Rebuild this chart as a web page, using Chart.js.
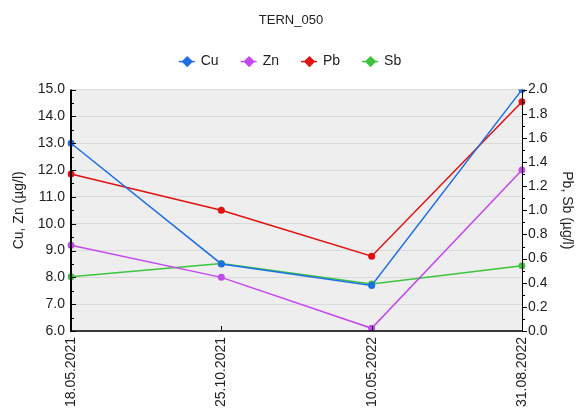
<!DOCTYPE html>
<html>
<head>
<meta charset="utf-8">
<script src="https://cdn.jsdelivr.net/npm/chart.js@4"></script>
<style>
  html, body { margin: 0; padding: 0; background: #fff; overflow: hidden; }
  #wrap { position: relative; width: 579px; height: 430px; }
</style>
</head>
<body>
<div id="wrap"><canvas id="chart"></canvas></div>
<script>
const dates = ['18.05.2021', '25.10.2021', '10.05.2022', '31.08.2022'];
const cuValues = [13.0, 8.5, 7.7, 15.0];
const znValues = [9.2, 8.0, 6.1, 12.0];
const pbValues = [1.30, 1.00, 0.62, 1.90];
const sbValues = [0.45, 0.56, 0.39, 0.54];

const FONT = 'Arial, "Liberation Sans", sans-serif';
const TEXT = '#222';

function series(label, data, color, axis) {
    return {
        label: label,
        data: data,
        yAxisID: axis,
        borderColor: color,
        backgroundColor: color,
        borderWidth: 1.5,
        pointRadius: 3.5,
        pointHoverRadius: 3.5,
        pointBorderWidth: 0,
        pointStyle: 'circle',
        tension: 0
    };
}

// plot background, border, inside/outside ticks incl. minor ones
const frame = {
    id: 'frame',
    beforeDraw(chart) {
        const { ctx, chartArea: a } = chart;
        ctx.save();
        ctx.fillStyle = '#eeeeee';
        ctx.fillRect(a.left, a.top, a.right - a.left, a.bottom - a.top);
        ctx.restore();
    },
    afterDraw(chart) {
        const { ctx, chartArea: a, scales } = chart;
        ctx.save();
        ctx.strokeStyle = '#000';
        // left axis
        ctx.lineWidth = 2;
        ctx.beginPath();
        ctx.moveTo(a.left, a.top);
        ctx.lineTo(a.left, a.bottom);
        ctx.stroke();
        ctx.lineWidth = 1.5;
        ctx.beginPath();
        ctx.moveTo(a.left - 1, a.bottom);
        ctx.lineTo(a.right, a.bottom);
        ctx.stroke();
        ctx.lineWidth = 1;
        ctx.beginPath();
        ctx.moveTo(a.right + 0.5, a.top);
        ctx.lineTo(a.right + 0.5, a.bottom);
        ctx.stroke();

        ctx.lineWidth = 1;
        ctx.beginPath();
        const yl = scales.y;
        for (let v = yl.min; v <= yl.max + 1e-6; v += 0.5) {
            const py = Math.round(yl.getPixelForValue(v)) + 0.5;
            const len = Math.abs(v - Math.round(v)) < 1e-6 ? 5 : 3;
            ctx.moveTo(a.left, py);
            ctx.lineTo(a.left + len, py);
        }
        const yr = scales.y2;
        for (let i = 0; i <= 20; i++) {
            const v = i * 0.1;
            const py = Math.round(yr.getPixelForValue(v)) + 0.5;
            const len = i % 2 === 0 ? 5 : 3;
            ctx.moveTo(a.right, py);
            ctx.lineTo(a.right + len, py);
        }
        const xs = scales.x;
        dates.forEach((d, i) => {
            const px = Math.round(xs.getPixelForValue(i)) + 0.5;
            ctx.moveTo(px, a.bottom);
            ctx.lineTo(px, a.bottom - 5);
        });
        ctx.stroke();

        // line through the legend markers
        const lg = chart.legend;
        if (lg && lg.legendHitBoxes) {
            lg.legendHitBoxes.forEach((b, i) => {
                const ds = chart.data.datasets[i];
                const cy = b.top + b.height / 2;
                ctx.strokeStyle = ds.borderColor;
                ctx.lineWidth = 1.5;
                ctx.beginPath();
                ctx.moveTo(b.left - 2, cy);
                ctx.lineTo(b.left + 14, cy);
                ctx.stroke();
            });
        }
        ctx.restore();
    }
};

new Chart(document.getElementById('chart'), {
    type: 'line',
    data: {
        labels: dates,
        datasets: [
            series('Cu', cuValues, '#1c6fe6', 'y'),
            series('Zn', znValues, '#c447ef', 'y'),
            series('Pb', pbValues, '#e31010', 'y2'),
            series('Sb', sbValues, '#3cc43c', 'y2')
        ]
    },
    options: {
        responsive: true,
        maintainAspectRatio: false,
        animation: false,
        events: [],
        layout: { padding: { top: 0, left: 3, right: 0, bottom: 0 } },
        plugins: {
            title: {
                display: true,
                text: 'TERN_050',
                color: TEXT,
                font: { family: FONT, size: 13, weight: 'normal' },
                padding: { top: 13, bottom: 2 }
            },
            // empty box used as gap between legend and plot
            subtitle: {
                display: true,
                text: '',
                weight: 500,
                font: { family: FONT, size: 11, lineHeight: 1 },
                padding: 0
            },
            legend: {
                display: true,
                position: 'top',
                labels: {
                    usePointStyle: true,
                    pointStyle: 'rectRot',
                    boxWidth: 13,
                    boxHeight: 8,
                    color: TEXT,
                    padding: 24,
                    font: { family: FONT, size: 14 }
                }
            },
            tooltip: { enabled: false }
        },
        scales: {
            x: {
                type: 'category',
                offset: false,
                grid: { display: false, drawTicks: false },
                border: { display: false },
                ticks: {
                    minRotation: 90,
                    maxRotation: 90,
                    padding: 6,
                    color: TEXT,
                    font: { family: FONT, size: 14 }
                },
                afterFit(scale) { scale.height = 430 - 331; }
            },
            y: {
                position: 'left',
                min: 6,
                max: 15,
                grid: { color: '#dadada', lineWidth: 1, drawTicks: false },
                border: { display: false },
                ticks: {
                    stepSize: 1,
                    padding: 6,
                    color: TEXT,
                    font: { family: FONT, size: 14 },
                    callback: v => v.toFixed(1)
                },
                title: {
                    display: true,
                    text: 'Cu, Zn (µg/l)',
                    color: TEXT,
                    font: { family: FONT, size: 14 },
                    padding: { top: 8, bottom: 0 }
                },
                afterFit(scale) { scale.width = 68; }
            },
            y2: {
                position: 'right',
                min: 0,
                max: 2,
                grid: { display: false, drawTicks: false },
                border: { display: false },
                ticks: {
                    stepSize: 0.2,
                    padding: 6,
                    color: TEXT,
                    font: { family: FONT, size: 14 },
                    callback: v => v.toFixed(1)
                },
                title: {
                    display: true,
                    text: 'Pb, Sb (µg/l)',
                    color: TEXT,
                    font: { family: FONT, size: 14 },
                    padding: { top: 4, bottom: 0 }
                },
                afterFit(scale) { scale.width = 57; }
            }
        }
    },
    plugins: [frame]
});
</script>
</body>
</html>
